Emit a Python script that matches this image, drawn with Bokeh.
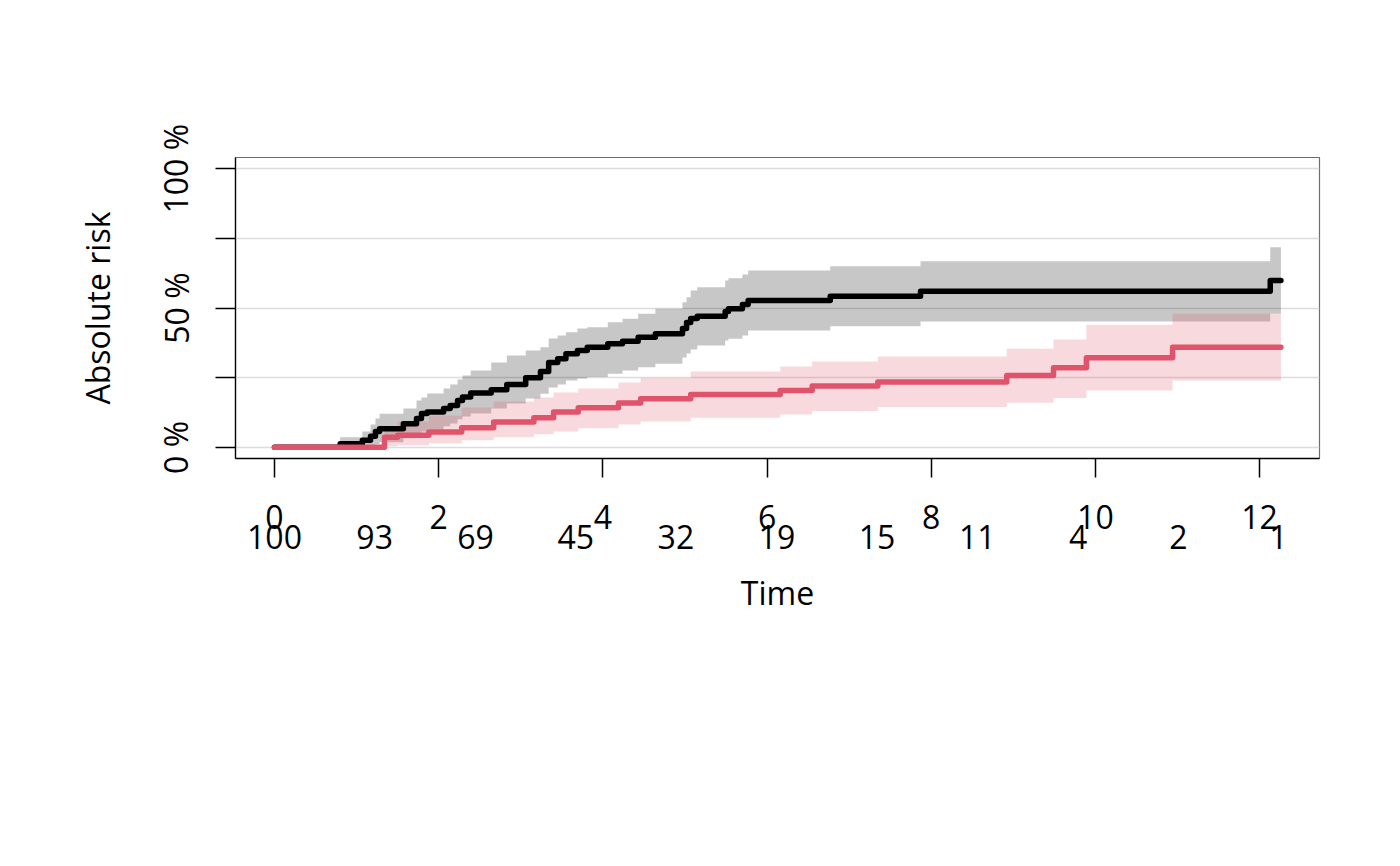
from bokeh.plotting import figure
from bokeh.models import Range1d, FixedTicker, LinearAxis
from bokeh.embed import file_html
from bokeh.resources import INLINE

# ---- data ----
black_t = [0, 0.80, 1.07, 1.17, 1.23, 1.28, 1.57, 1.73, 1.79, 1.86, 2.06, 2.14, 2.23, 2.29, 2.39,
           2.64, 2.83, 3.06, 3.24, 3.34, 3.45, 3.55, 3.69, 3.81, 4.06, 4.24, 4.43, 4.64, 4.97, 5.02,
           5.07, 5.15, 5.49, 5.53, 5.70, 5.77, 6.77, 7.87, 12.13, 12.26]
black_est = [0, 1.25, 2.51, 3.94, 5.73, 6.70, 8.49, 10.39, 12.19, 12.65, 13.98, 15.05, 16.85, 18.03, 19.46,
             20.68, 22.58, 24.98, 27.24, 30.47, 31.79, 33.58, 34.77, 35.95, 37.17, 38.10, 39.53, 40.75, 42.65, 44.80,
             46.24, 47.06, 48.75, 49.71, 51.25, 52.69, 54.23, 56.02, 59.86, 59.86]
black_up = [0, 3.58, 5.73, 8.24, 10.39, 12.08, 13.98, 16.85, 17.92, 19.35, 21.15, 22.58, 24.37, 25.81, 27.60,
            30.47, 32.97, 34.77, 35.95, 39.07, 40.14, 41.33, 42.65, 43.12, 44.91, 46.13, 47.92, 49.71, 52.08, 53.87,
            56.27, 57.45, 59.86, 60.68, 62.01, 63.44, 64.98, 66.77, 71.79, 71.79]
black_lo = [0, 0, 0, 0.36, 1.08, 1.79, 3.23, 4.30, 5.73, 6.45, 7.53, 8.60, 10.04, 11.11, 12.19,
            13.98, 15.77, 17.56, 19.25, 21.51, 22.58, 24.01, 24.73, 25.20, 26.42, 27.60, 28.78, 30.00, 32.26, 33.69,
            35.13, 36.56, 38.35, 38.96, 40.14, 41.94, 43.48, 45.16, 47.92, 47.92]

red_t = [0, 1.34, 1.50, 1.88, 2.28, 2.67, 3.16, 3.40, 3.70, 4.19, 4.46, 5.07, 6.16, 6.55, 7.35,
         8.92, 9.49, 9.89, 10.94, 12.26]
red_est = [0, 3.58, 4.30, 5.48, 7.06, 9.14, 10.65, 12.65, 14.23, 15.88, 17.46, 19.00, 20.43, 21.97, 23.41,
           25.81, 28.57, 32.15, 35.95, 35.95]
red_up = [0, 6.81, 9.32, 11.47, 14.34, 16.49, 17.92, 19.71, 21.15, 23.30, 24.84, 27.24, 29.03, 30.82, 32.62,
          35.38, 38.71, 43.98, 47.92, 47.92]
red_lo = [0, 0.36, 0.72, 1.43, 2.51, 3.58, 4.66, 5.73, 6.81, 8.24, 9.32, 10.65, 11.83, 13.01, 14.44,
          16.02, 17.67, 20.43, 24.01, 24.01]

x_ticks = [0, 2, 4, 6, 8, 10, 12]
y_ticks = [0, 25, 50, 75, 100]
y_tick_labels = ["0 %", "", "50 %", "", "100 %"]
risk_times = [0, 1.22, 2.45, 3.67, 4.89, 6.12, 7.34, 8.56, 9.79, 11.01, 12.23]
at_risk = [100, 93, 69, 45, 32, 19, 15, 11, 4, 2, 1]

FONT = "Open Sans"
FS = "32px"
RED = "#DF536B"

p = figure(width=1392, height=850, output_backend="svg", toolbar_location=None,
           x_range=Range1d(-0.475, 12.73), y_range=Range1d(-4, 104),
           min_border_left=235, min_border_right=73, min_border_top=157, min_border_bottom=392)
p.background_fill_color = "white"
p.border_fill_color = "white"
p.outline_line_color = "#6e6e6e"
p.outline_line_width = 1.2

# grid
p.xgrid.visible = False
p.ygrid.ticker = FixedTicker(ticks=y_ticks)
p.ygrid.grid_line_color = "#dcdcdc"
p.ygrid.grid_line_width = 1.6

# bands
p.varea_step(x=black_t, y1=black_lo, y2=black_up, step_mode="after",
             fill_color="black", fill_alpha=0.22)
p.varea_step(x=red_t, y1=red_lo, y2=red_up, step_mode="after",
             fill_color=RED, fill_alpha=0.22)

# curves
p.step(black_t, black_est, mode="after", line_color="black", line_width=5.5,
       line_cap="round", line_join="round")
p.step(red_t, red_est, mode="after", line_color=RED, line_width=5.5,
       line_cap="round", line_join="round")


def style(a):
    a.axis_line_color = "black"
    a.axis_line_width = 1.3
    a.major_tick_line_color = "black"
    a.major_tick_line_width = 1.5
    a.minor_tick_line_color = None
    a.major_tick_in = 0
    a.major_label_text_font = FONT
    a.major_label_text_font_size = FS
    a.major_label_text_color = "black"
    a.axis_label_text_font = FONT
    a.axis_label_text_font_size = FS
    a.axis_label_text_font_style = "normal"
    a.axis_label_text_color = "black"


# main x axis
xa = p.xaxis[0]
style(xa)
xa.ticker = FixedTicker(ticks=x_ticks)
xa.major_tick_out = 19
xa.major_label_standoff = 27

# numbers-at-risk row (second axis below the main one)
ra = LinearAxis()
style(ra)
ra.ticker = FixedTicker(ticks=risk_times)
ra.major_label_overrides = {t: str(n) for t, n in zip(risk_times, at_risk)}
ra.axis_line_color = None
ra.major_tick_line_color = None
ra.major_tick_out = 0
ra.major_label_standoff = -7
ra.axis_label = "Time"
ra.axis_label_standoff = 19
p.add_layout(ra, "below")

# y axis
ya = p.yaxis[0]
style(ya)
ya.ticker = FixedTicker(ticks=y_ticks)
ya.major_label_overrides = {t: s for t, s in zip(y_ticks, y_tick_labels)}
ya.major_label_orientation = "vertical"
ya.major_tick_out = 20
ya.major_label_standoff = 18
ya.axis_label = "Absolute risk"
ya.axis_label_standoff = 33

open("out.html", "w").write(file_html(p, INLINE))
